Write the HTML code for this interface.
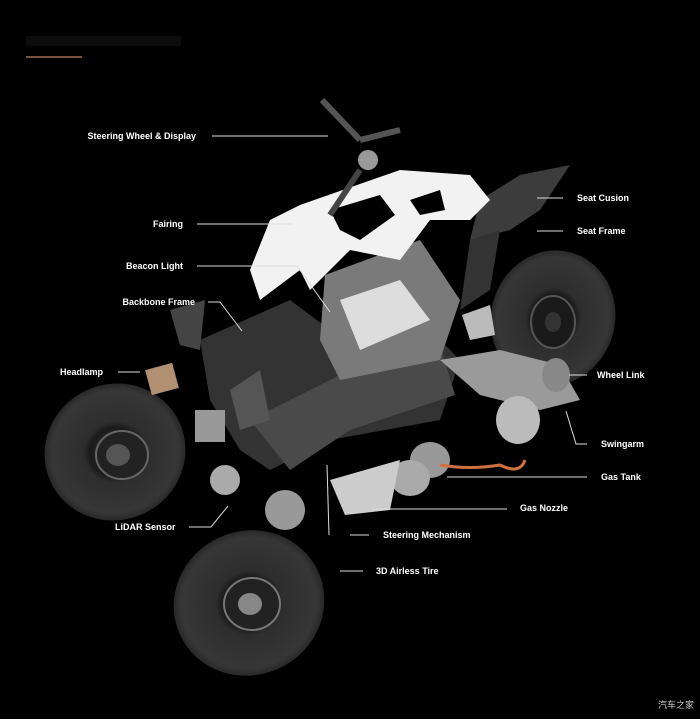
<!DOCTYPE html>
<html><head><meta charset="utf-8"><style>
html,body{margin:0;padding:0;background:#000;}
svg{display:block}
text{font-family:"Liberation Sans",sans-serif;font-weight:bold;font-size:9px;fill:#fff}
</style></head><body>
<svg width="700" height="719" viewBox="0 0 700 719" xmlns="http://www.w3.org/2000/svg">
<rect width="700" height="719" fill="#000"/>
<rect x="26" y="36" width="155" height="10" fill="#0c0c0c"/>
<line x1="26" y1="57" x2="82" y2="57" stroke="#a06a5a" stroke-width="1.5"/>
<defs>
<radialGradient id="tire" cx="50%" cy="50%" r="50%">
<stop offset="0" stop-color="#444"/><stop offset="0.35" stop-color="#1a1a1a"/><stop offset="0.45" stop-color="#2e2e2e"/><stop offset="0.9" stop-color="#363636"/><stop offset="1" stop-color="#282828"/></radialGradient>
</defs>
<g>
<ellipse cx="115" cy="452" rx="71" ry="68" transform="rotate(-25 115 452)" fill="url(#tire)"/>
<ellipse cx="122" cy="455" rx="26" ry="24" fill="#222" stroke="#666" stroke-width="2"/>
<ellipse cx="118" cy="455" rx="12" ry="11" fill="#555"/>
<ellipse cx="249" cy="603" rx="76" ry="72" transform="rotate(-25 249 603)" fill="url(#tire)"/>
<ellipse cx="252" cy="604" rx="28" ry="26" fill="#222" stroke="#777" stroke-width="2"/>
<ellipse cx="250" cy="604" rx="12" ry="11" fill="#888"/>
<ellipse cx="553" cy="318" rx="62" ry="68" transform="rotate(15 553 318)" fill="url(#tire)"/>
<ellipse cx="553" cy="322" rx="22" ry="26" fill="#1a1a1a" stroke="#555" stroke-width="2"/>
<ellipse cx="553" cy="322" rx="8" ry="10" fill="#333"/>
</g>
<polygon points="200,340 290,300 330,330 430,330 460,360 440,420 330,440 270,470 240,450 210,400" fill="#333"/>
<polygon points="250,420 350,370 440,345 455,395 350,430 290,470" fill="#4a4a4a"/>
<polygon points="170,310 205,300 200,350 180,345" fill="#444"/>
<polygon points="325,275 420,240 460,300 440,360 340,380 320,340" fill="#7a7a7a"/>
<polygon points="340,300 400,280 430,320 360,350" fill="#ddd"/>
<polygon points="480,200 520,175 570,165 540,210 510,230 470,240" fill="#3c3c3c"/>
<polygon points="470,240 500,230 490,290 460,310" fill="#333"/>
<polygon points="300,205 400,170 470,175 490,200 470,220 430,220 400,260 350,250 310,290 300,270 260,300 250,270 270,220" fill="#f2f2f2"/>
<polygon points="330,210 380,195 395,215 360,240 340,230" fill="#000"/>
<polygon points="410,200 440,190 445,210 420,215" fill="#000"/>
<line x1="322" y1="100" x2="360" y2="140" stroke="#555" stroke-width="6"/>
<line x1="360" y1="140" x2="400" y2="130" stroke="#555" stroke-width="6"/>
<circle cx="368" cy="160" r="10" fill="#999"/>
<line x1="360" y1="170" x2="330" y2="215" stroke="#444" stroke-width="6"/>
<polygon points="440,360 500,350 560,365 580,400 540,410 480,395" fill="#9a9a9a"/>
<ellipse cx="518" cy="420" rx="22" ry="24" fill="#bbb"/>
<ellipse cx="556" cy="375" rx="14" ry="17" fill="#888"/>
<polygon points="462,315 490,305 495,335 470,340" fill="#bbb"/>
<ellipse cx="430" cy="460" rx="20" ry="18" fill="#999"/>
<ellipse cx="410" cy="478" rx="20" ry="18" fill="#aaa"/>
<polygon points="330,480 400,460 390,510 345,515" fill="#ccc"/>
<path d="M440 465 Q470 470 500 465 Q520 475 525 460" stroke="#d07040" stroke-width="3" fill="none"/>
<rect x="148" y="366" width="28" height="26" fill="#b09070" transform="rotate(-15 162 379)"/>
<rect x="195" y="410" width="30" height="32" fill="#999"/>
<ellipse cx="225" cy="480" rx="15" ry="15" fill="#aaa"/>
<ellipse cx="285" cy="510" rx="20" ry="20" fill="#999"/>
<polygon points="230,390 260,370 270,420 240,430" fill="#555"/>
<g stroke="#ddd" stroke-width="1" fill="none">
<line x1="212" y1="136" x2="328" y2="136"/>
<line x1="197" y1="224" x2="292" y2="224"/>
<polyline points="197,266 297,266 330,312"/>
<polyline points="208,302 220,302 242,331"/>
<line x1="118" y1="372" x2="140" y2="372"/>
<polyline points="189,527 211,527 228,506"/>
<line x1="537" y1="198" x2="563" y2="198"/>
<line x1="537" y1="231" x2="563" y2="231"/>
<line x1="569" y1="375" x2="587" y2="375"/>
<polyline points="566,411 576,444 587,444"/>
<line x1="447" y1="477" x2="587" y2="477"/>
<line x1="372" y1="509" x2="507" y2="509"/>
<line x1="350" y1="535" x2="369" y2="535"/>
<line x1="340" y1="571" x2="363" y2="571"/>
<line x1="327" y1="465" x2="329" y2="535"/>
</g>
<text x="196" y="139" text-anchor="end">Steering Wheel &amp; Display</text>
<text x="183" y="227" text-anchor="end">Fairing</text>
<text x="183" y="269" text-anchor="end">Beacon Light</text>
<text x="195" y="305" text-anchor="end">Backbone Frame</text>
<text x="60" y="375">Headlamp</text>
<text x="115" y="530">LiDAR Sensor</text>
<text x="577" y="201">Seat Cusion</text>
<text x="577" y="234">Seat Frame</text>
<text x="597" y="378">Wheel Link</text>
<text x="601" y="447">Swingarm</text>
<text x="601" y="480">Gas Tank</text>
<text x="520" y="511">Gas Nozzle</text>
<text x="383" y="538">Steering Mechanism</text>
<text x="376" y="574">3D Airless Tire</text>
<text x="658" y="708" style="font-family:'Liberation Sans','Noto Sans CJK SC',sans-serif;font-weight:normal;font-size:9px;fill:#ccc">汽车之家</text>
</svg>
</body></html>
